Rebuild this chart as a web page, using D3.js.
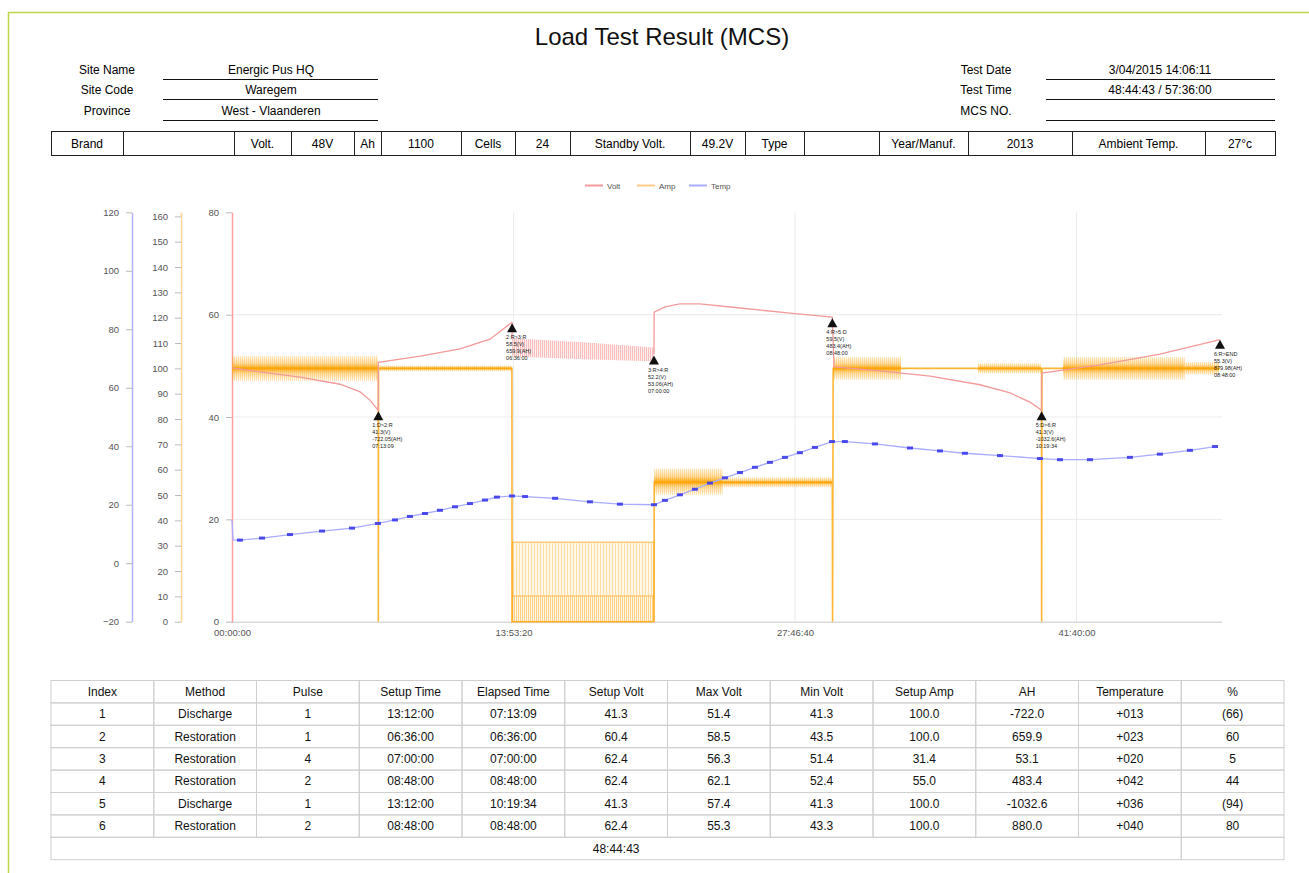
<!DOCTYPE html>
<html><head><meta charset="utf-8">
<script src="https://cdn.jsdelivr.net/npm/d3@7"></script>
<style>
body{margin:0;background:#fff;}
svg{font-family:"Liberation Sans",Arial,Helvetica,sans-serif;}
</style></head><body>
<svg id="c" width="1309" height="873"></svg>
<script>
// ---------------- DATA ----------------
const title = "Load Test Result (MCS)";
const siteLabels = ["Site Name","Site Code","Province"];
const siteValues = ["Energic Pus HQ","Waregem","West - Vlaanderen"];
const testLabels = ["Test Date","Test Time","MCS NO."];
const testValues = ["3/04/2015 14:06:11","48:44:43 / 57:36:00",""];
const specCells = ["Brand","","Volt.","48V","Ah","1100","Cells","24","Standby Volt.","49.2V","Type","","Year/Manuf.","2013","Ambient Temp.","27°c"];

const seriesNames = ["Volt","Amp","Temp"];
const timeTickHours = [0, 13.8889, 27.7778, 41.6667];
const timeTickLabels = ["00:00:00","13:53:20","27:46:40","41:40:00"];
const voltTicks = [0,20,40,60,80];
const ampTicks = [0,10,20,30,40,50,60,70,80,90,100,110,120,130,140,150,160];
const tempTicks = [-20,0,20,40,60,80,100,120];
const totalHours = 48.745;

// Volt (hours, V) — null marks the pulsed section drawn as a band
const voltHours = [0,1.38,3.35,5.33,6.32,6.81,7.219, 7.22,9.29,11.25,12.73,13.819, null,
  20.819,20.83,21.36,22.10,23.09,25.06,27.53,29.619, 29.70,31.97,34.44,36.91,38.39,39.37,39.945,
  39.95,42.82,45.78,48.745];
const voltValues = [49.6,48.8,47.8,46.4,44.9,43.3,41.3, 50.7,51.9,53.3,55.2,58.5, null,
  52.2,60.5,61.5,62.1,62.1,61.3,60.3,59.5, 49.8,49.0,48.0,46.3,44.7,42.9,41.3,
  48.6,50.2,52.3,55.1];
// pulsed volt band (phase 3)
const voltBandHours = [13.82, 17.3, 20.819];
const voltBandHigh = [55.4, 54.6, 53.6];
const voltBandLow = [51.8, 51.3, 50.9];

// Amp (hours, A)
const ampHours = [0,7.219,7.22,7.23,13.81,13.819, 20.819,20.83,29.619,29.63,29.66,39.94,39.945,39.96,48.745];
const ampValues = [100,100,0,100,100,0, 0,55,55,0,100,100,0,100,100];
// noisy stretches of the amp trace: [start h, end h, low A, high A]
const ampNoise = [[0,7.2,95,105],[7.25,13.8,98.8,101.2],[20.83,24.2,50,60.5],[24.2,29.6,53,57],
  [29.66,33.0,95.5,104.5],[36.8,39.9,98,102],[41.0,47.0,95.5,104.5],[47.0,48.7,97.5,102.5]];
// pulsed amp section (phase 3)
const ampPulseStart = 13.82, ampPulseEnd = 20.819;
const ampPulseHigh = 31.4, ampPulseLow = 10.1;

// Temp (hours, °C)
const tempHours = [0,0.05,0.39,1.48,2.86,4.44,5.92,7.20,8.04,8.78,9.52,10.26,11.00,11.74,12.48,13.07,13.81,14.46,15.94,17.66,19.14,20.82,
  21.36,22.10,22.84,23.58,24.32,25.06,25.80,26.54,27.28,28.02,28.76,29.60,30.24,31.72,33.45,34.93,36.16,37.89,39.86,40.85,42.33,44.30,45.78,47.26,48.50];
const tempValues = [14.8,8.0,7.9,8.6,9.8,11.0,12.0,13.6,14.8,16.0,17.0,18.1,19.3,20.4,21.6,22.6,23.0,22.8,22.2,21.0,20.2,20.0,
  21.5,23.4,25.3,27.4,29.2,31.0,32.8,34.5,36.2,37.8,39.6,41.6,41.6,40.8,39.4,38.4,37.6,36.8,35.8,35.4,35.4,36.2,37.3,38.6,39.9];

// annotations at each step end
const annoHours = [7.219, 13.819, 20.819, 29.619, 39.945, 48.745];
const annoVolts = [41.3, 58.5, 52.2, 59.5, 41.3, 55.3];
const annoText = [
  ["1:D>2:R","41.3(V)","-722.05(AH)","07:13:09"],
  ["2:R>3:R","58.5(V)","659.9(AH)","06:36:00"],
  ["3:R>4:R","52.2(V)","53.06(AH)","07:00:00"],
  ["4:R>5:D","59.5(V)","483.4(AH)","08:48:00"],
  ["5:D>6:R","41.3(V)","-1032.6(AH)","10:19:34"],
  ["6:R>END","55.3(V)","879.98(AH)","08:48:00"]];

const tableHeader = ["Index","Method","Pulse","Setup Time","Elapsed Time","Setup Volt","Max Volt","Min Volt","Setup Amp","AH","Temperature","%"];
const tableRows = [
  ["1","Discharge","1","13:12:00","07:13:09","41.3","51.4","41.3","100.0","-722.0","+013","(66)"],
  ["2","Restoration","1","06:36:00","06:36:00","60.4","58.5","43.5","100.0","659.9","+023","60"],
  ["3","Restoration","4","07:00:00","07:00:00","62.4","56.3","51.4","31.4","53.1","+020","5"],
  ["4","Restoration","2","08:48:00","08:48:00","62.4","62.1","52.4","55.0","483.4","+042","44"],
  ["5","Discharge","1","13:12:00","10:19:34","41.3","57.4","41.3","100.0","-1032.6","+036","(94)"],
  ["6","Restoration","2","08:48:00","08:48:00","62.4","55.3","43.3","100.0","880.0","+040","80"]];
const totalTime = "48:44:43";

// ---------------- LAYOUT ----------------
const specEdges = [51,123,234,291,354,381,461,515,570,690,745,804,879,968,1072,1205,1275];
const C = {volt:"#f49a9a", amp:"#ffa200", temp:"#a9acff", tempMark:"#3b3bea",
  voltAxis:"#ff9f9f", ampAxis:"#ffd596", tempAxis:"#b3b3ff", grid:"#ebebeb", tick:"#bbb", label:"#555"};

const svg = d3.select("#c");
const defs = svg.append("defs");
function hatch(id, color, op, w){
  const p = defs.append("pattern").attr("id",id).attr("patternUnits","userSpaceOnUse")
    .attr("width",w).attr("height",8);
  p.append("line").attr("x1",0.5).attr("x2",0.5).attr("y1",0).attr("y2",8)
    .attr("stroke",color).attr("stroke-opacity",op).attr("stroke-width",1);
}
hatch("hO", "#ffa200", 0.55, 2);
hatch("hO2", "#ffb733", 0.45, 3);
hatch("hR", "#f07a7a", 0.55, 2);
const grad = defs.append("linearGradient").attr("id","fuzz").attr("x1",0).attr("x2",0).attr("y1",0).attr("y2",1);
[[0,0],[0.3,0.35],[0.5,0.9],[0.7,0.35],[1,0]].forEach(s=>grad.append("stop")
  .attr("offset",s[0]).attr("stop-color","#ffa200").attr("stop-opacity",s[1]));

// frame
svg.append("path").attr("d","M8.5,873 V12.5 H1309").attr("fill","none")
  .attr("stroke","#bcd548").attr("stroke-width",1.5);

// title
svg.append("text").attr("x",662).attr("y",45).attr("text-anchor","middle")
  .attr("font-size",24).attr("fill","#111").text(title);

// info rows
const infoY = [70, 90, 111];
infoY.forEach((y,i)=>{
  svg.append("text").attr("x",107).attr("y",y+4).attr("text-anchor","middle").attr("font-size",12).text(siteLabels[i]);
  svg.append("text").attr("x",271).attr("y",y+4).attr("text-anchor","middle").attr("font-size",12).text(siteValues[i]);
  svg.append("line").attr("x1",163).attr("x2",378).attr("y1",y+9.5).attr("y2",y+9.5).attr("stroke","#111");
  svg.append("text").attr("x",986).attr("y",y+4).attr("text-anchor","middle").attr("font-size",12).text(testLabels[i]);
  svg.append("text").attr("x",1160).attr("y",y+4).attr("text-anchor","middle").attr("font-size",12).text(testValues[i]);
  svg.append("line").attr("x1",1046).attr("x2",1275).attr("y1",y+9.5).attr("y2",y+9.5).attr("stroke","#111");
});

// spec table
svg.append("rect").attr("x",51.5).attr("y",131.5).attr("width",1275-51).attr("height",24)
  .attr("fill","none").attr("stroke","#222");
specEdges.slice(1,-1).forEach(e=>svg.append("line").attr("x1",e+0.5).attr("x2",e+0.5)
  .attr("y1",131.5).attr("y2",155.5).attr("stroke","#222"));
specCells.forEach((t,i)=>svg.append("text").attr("x",(specEdges[i]+specEdges[i+1])/2).attr("y",147.5)
  .attr("text-anchor","middle").attr("font-size",12).text(t));

// ---------------- CHART ----------------
const x = d3.scaleLinear().domain([0,totalHours]).range([232,1220]);
const yTop = 212.3, yBot = 621.7;
const yV = d3.scaleLinear().domain([0,80]).range([yBot,yTop]);
const yA = d3.scaleLinear().domain([0,161.6]).range([yBot,yTop]);
const yT = d3.scaleLinear().domain([-20,120]).range([yBot,yTop]);

// legend
const legX = [585, 637, 689];
const legCol = [C.volt, "#ffcf8a", C.temp];
seriesNames.forEach((n,i)=>{
  svg.append("line").attr("x1",legX[i]).attr("x2",legX[i]+18).attr("y1",185.5).attr("y2",185.5)
    .attr("stroke",legCol[i]).attr("stroke-width",2);
  svg.append("text").attr("x",legX[i]+22).attr("y",188.5).attr("font-size",8).attr("fill",C.label).text(n);
});

// grid
const g = svg.append("g");
voltTicks.filter(v=>v>0 && v<80).forEach(v=>g.append("line").attr("x1",232).attr("x2",1222)
  .attr("y1",yV(v)).attr("y2",yV(v)).attr("stroke",C.grid));
timeTickHours.slice(1).forEach(h=>g.append("line").attr("x1",x(h)).attr("x2",x(h))
  .attr("y1",yTop).attr("y2",yBot).attr("stroke",C.grid));

// x axis
const xa = svg.append("g").attr("transform",`translate(0,${yBot})`)
  .call(d3.axisBottom(x).tickValues(timeTickHours).tickFormat((d,i)=>timeTickLabels[i]).tickSize(0).tickSizeOuter(0).tickPadding(8));
xa.select(".domain").attr("stroke","#c8c8c8").attr("d",`M232,0.5H1222`);
xa.selectAll("text").attr("font-size",9.5).attr("fill",C.label).attr("font-family","Liberation Sans, Arial");

function yAxis(scale, ticks, xpos, col){
  const a = svg.append("g").attr("transform",`translate(${xpos},0)`)
    .call(d3.axisLeft(scale).tickValues(ticks).tickSize(6).tickSizeOuter(0).tickPadding(7));
  a.select(".domain").attr("stroke",col).attr("stroke-width",1.5);
  a.selectAll(".tick line").attr("stroke",C.tick);
  a.selectAll("text").attr("font-size",9.5).attr("fill",C.label).attr("font-family","Liberation Sans, Arial");
}
yAxis(yT, tempTicks, 132, C.tempAxis);
yAxis(yA, ampTicks, 181, C.ampAxis);
yAxis(yV, voltTicks, 232, C.voltAxis);

// ---- amp ----
const pw = x(ampPulseEnd)-x(ampPulseStart);
svg.append("rect").attr("x",x(ampPulseStart)).attr("width",pw)
  .attr("y",yA(ampPulseHigh)).attr("height",yA(0)-yA(ampPulseHigh))
  .attr("fill","#ffd088").attr("opacity",0.2);
svg.append("rect").attr("x",x(ampPulseStart)).attr("width",pw)
  .attr("y",yA(ampPulseHigh)).attr("height",yA(ampPulseLow)-yA(ampPulseHigh))
  .attr("fill","url(#hO2)").attr("opacity",0.8);
svg.append("rect").attr("x",x(ampPulseStart)).attr("width",pw)
  .attr("y",yA(ampPulseLow)).attr("height",yA(0)-yA(ampPulseLow))
  .attr("fill","url(#hO)").attr("opacity",0.8);
[ampPulseHigh, ampPulseLow].forEach(v=>svg.append("line").attr("x1",x(ampPulseStart)).attr("x2",x(ampPulseEnd))
  .attr("y1",yA(v)).attr("y2",yA(v)).attr("stroke","#ffc266").attr("stroke-width",1.5).attr("opacity",0.8));
[ampPulseStart, ampPulseEnd].forEach(h=>svg.append("line").attr("x1",x(h)).attr("x2",x(h))
  .attr("y1",yA(ampPulseHigh)).attr("y2",yA(0)).attr("stroke","#ffc166").attr("stroke-width",1));

// noise bands
const nz = svg.append("g");
nz.selectAll("rect.f").data(ampNoise).join("rect").attr("class","f")
  .attr("x",d=>x(d[0])).attr("width",d=>x(d[1])-x(d[0]))
  .attr("y",d=>yA(d[3])).attr("height",d=>yA(d[2])-yA(d[3]))
  .attr("fill","url(#fuzz)");
nz.selectAll("rect.h").data(ampNoise).join("rect").attr("class","h")
  .attr("x",d=>x(d[0])).attr("width",d=>x(d[1])-x(d[0]))
  .attr("y",d=>yA(d[3])).attr("height",d=>yA(d[2])-yA(d[3]))
  .attr("fill","url(#hO)").attr("opacity",0.5);

const ampPts = ampHours.map((h,i)=>[h,ampValues[i]]);
svg.append("path").datum(ampPts)
  .attr("d",d3.line().x(d=>x(d[0])).y(d=>yA(d[1])))
  .attr("fill","none").attr("stroke",C.amp).attr("stroke-width",1.6).attr("opacity",0.8);

// ---- volt ----
const bandPts = voltBandHours.map((h,i)=>[h,voltBandLow[i],voltBandHigh[i]]);
const bandArea = d3.area().x(d=>x(d[0])).y0(d=>yV(d[1])).y1(d=>yV(d[2]));
svg.append("path").datum(bandPts).attr("d",bandArea).attr("fill","#fbd0d0").attr("opacity",0.35);
svg.append("path").datum(bandPts).attr("d",bandArea).attr("fill","url(#hR)").attr("opacity",0.8);
const voltPts = voltHours.map((h,i)=>[h,voltValues[i]]);
svg.append("path").datum(voltPts)
  .attr("d",d3.line().defined(d=>d[0]!==null).x(d=>x(d[0])).y(d=>yV(d[1])))
  .attr("fill","none").attr("stroke",C.volt).attr("stroke-width",1.3);
svg.append("path").datum([[voltHours[11],voltValues[11]],[voltBandHours[0],voltBandHigh[0]]])
  .attr("d",d3.line().x(d=>x(d[0])).y(d=>yV(d[1])))
  .attr("fill","none").attr("stroke",C.volt).attr("stroke-width",1.2);

// ---- temp ----
const tempPts = tempHours.map((h,i)=>[h,tempValues[i]]);
svg.append("path").datum(tempPts)
  .attr("d",d3.line().x(d=>x(d[0])).y(d=>yT(d[1])))
  .attr("fill","none").attr("stroke",C.temp).attr("stroke-width",1.3);
svg.append("g").selectAll("rect").data(tempPts.slice(2)).join("rect")
  .attr("x",d=>x(d[0])-3).attr("y",d=>yT(d[1])-1.5).attr("width",6).attr("height",3)
  .attr("fill",C.tempMark).attr("opacity",0.9);

// ---- annotations ----
const an = svg.append("g");
annoHours.forEach((h,i)=>{
  const ax = x(h), ay = yV(annoVolts[i]) + 1;
  an.append("path").attr("d",`M${ax},${ay}L${ax+5},${ay+9}L${ax-5},${ay+9}Z`).attr("fill","#111");
  annoText[i].forEach((t,j)=>an.append("text").attr("x",ax-6).attr("y",ay+16+j*7)
    .attr("font-size",5.5).attr("fill","#222").text(t));
});

// ---------------- BOTTOM TABLE ----------------
const tx0 = 51, tx1 = 1284, ty0 = 680.5, rh = 22.4;
const cw = (tx1-tx0)/tableHeader.length;
const tb = svg.append("g").attr("font-size",12);
const allRows = [tableHeader, ...tableRows];
allRows.forEach((r,ri)=>{
  r.forEach((c,ci)=>{
    tb.append("rect").attr("x",tx0+ci*cw).attr("y",ty0+ri*rh).attr("width",cw).attr("height",rh)
      .attr("fill","none").attr("stroke","#cfcfcf");
    tb.append("text").attr("x",tx0+ci*cw+cw/2).attr("y",ty0+ri*rh+rh/2+4)
      .attr("text-anchor","middle").attr("fill","#111").text(c);
  });
});
const tyT = ty0 + allRows.length*rh;
tb.append("rect").attr("x",tx0).attr("y",tyT).attr("width",cw*11).attr("height",rh)
  .attr("fill","none").attr("stroke","#cfcfcf");
tb.append("rect").attr("x",tx0+cw*11).attr("y",tyT).attr("width",cw).attr("height",rh)
  .attr("fill","none").attr("stroke","#cfcfcf");
tb.append("text").attr("x",tx0+cw*5.5).attr("y",tyT+rh/2+4).attr("text-anchor","middle")
  .attr("fill","#111").text(totalTime);
</script></body></html>
